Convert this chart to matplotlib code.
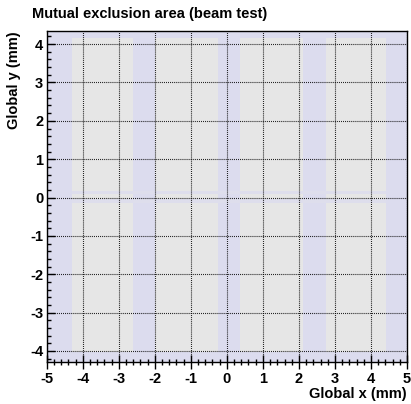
import matplotlib
matplotlib.use("Agg")
import matplotlib.pyplot as plt
from matplotlib.ticker import MultipleLocator

# Data: hit-density regions (mm)
band_x_lo = [-5.00, -2.60, -0.25, 2.11, 4.42]
band_x_hi = [-4.31, -2.00, 0.37, 2.74, 5.00]
strip_y_lo = [4.15, -4.28]
strip_y_hi = [4.35, -4.02]
thin_y_lo = [0.09, -0.13]
thin_y_hi = [0.18, -0.04]
thin_x_range = [-4.31, 4.42]
x_ticks = [-5, -4, -3, -2, -1, 0, 1, 2, 3, 4, 5]
y_ticks = [-4, -3, -2, -1, 0, 1, 2, 3, 4]
x_range = [-5, 5]
y_range = [-4.28, 4.35]

plt.rcParams['font.family'] = ['Liberation Sans', 'DejaVu Sans']
plt.rcParams['font.weight'] = 'bold'

fig = plt.figure(figsize=(4.11, 4.04), dpi=100)
ax = fig.add_axes([0.1136, 0.1047, 0.8767, 0.8193])
ax.set_facecolor('#e6e6e6')

band_col = '#dcdcee'
for lo, hi in zip(band_x_lo, band_x_hi):
    ax.axvspan(lo, hi, color=band_col, lw=0, zorder=1)
for lo, hi in zip(strip_y_lo, strip_y_hi):
    ax.axhspan(lo, hi, color=band_col, lw=0, zorder=1)
for lo, hi in zip(thin_y_lo, thin_y_hi):
    ax.fill_between(thin_x_range, lo, hi, color='#dedeec', lw=0, zorder=1)

ax.set_xlim(*x_range)
ax.set_ylim(*y_range)
ax.set_xticks(x_ticks)
ax.set_yticks(y_ticks)
ax.set_xticklabels([str(t) for t in x_ticks])
ax.set_yticklabels([str(t) for t in y_ticks])
ax.xaxis.set_minor_locator(MultipleLocator(0.2))
ax.yaxis.set_minor_locator(MultipleLocator(0.2))

ax.grid(True, which='major', color='black', lw=0.8, linestyle=(0, (0.75, 1.0)), zorder=2)
ax.set_axisbelow(False)

ax.tick_params(axis='x', which='major', direction='inout', length=9.5, width=1.0, pad=2.5, labelsize=10.5, bottom=True, top=False)
ax.tick_params(axis='x', which='minor', direction='inout', length=5, width=1.0, bottom=True, top=False)
ax.tick_params(axis='y', which='major', direction='in', length=5.8, width=1.0, pad=2.5, labelsize=10.5, left=True, right=False)
ax.tick_params(axis='y', which='minor', direction='in', length=3, width=1.0, left=True, right=False)
for lab in ax.get_xticklabels() + ax.get_yticklabels():
    lab.set_fontweight('bold')

for s in ax.spines.values():
    s.set_linewidth(1.0)
    s.set_color('black')
    s.set_zorder(5)

fig.text(0.077, 0.955, 'Mutual exclusion area (beam test)', fontsize=10.5, fontweight='bold', ha='left', va='baseline')
fig.text(0.990, 0.014, 'Global x (mm)', fontsize=10.5, fontweight='bold', ha='right', va='baseline')
fig.text(0.033, 0.923, 'Global y (mm)', fontsize=10.5, fontweight='bold', ha='center', va='top', rotation=90)

fig.savefig('out.png', dpi=100)
